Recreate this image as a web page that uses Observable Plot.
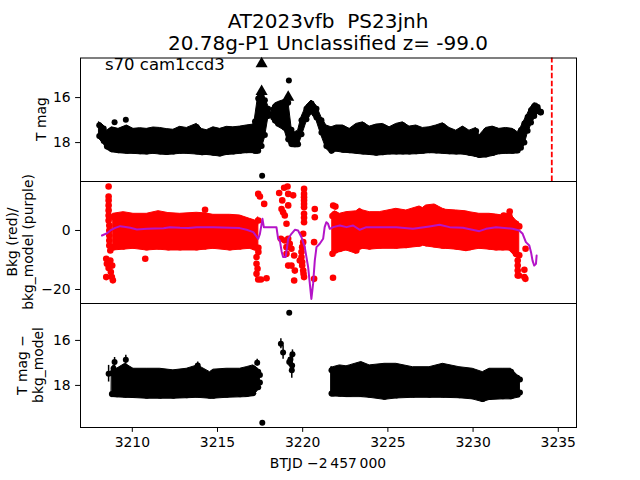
<!DOCTYPE html>
<html><head><meta charset="utf-8">
<script src="https://cdn.jsdelivr.net/npm/d3@7"></script>
<script src="https://cdn.jsdelivr.net/npm/@observablehq/plot@0.6"></script>
<style>
body{margin:0;background:#fff;}
#root{position:relative;width:640px;height:480px;overflow:hidden;font-family:"DejaVu Sans",sans-serif;}
#root svg{position:absolute;left:0;}
</style>
</head><body><div id="root"></div>
<script>
// ---------- text ----------
const titleLine1 = "AT2023vfb  PS23jnh";
const titleLine2 = "20.78g-P1 Unclassified z= -99.0";
const panelNote = "s70 cam1ccd3";
const yLabel1 = ["T mag"];
const yLabel2 = ["Bkg (red)/", "bkg_model (purple)"];
const yLabel3 = ["T mag \u2212", "bkg_model"];
const xLabel = "BTJD \u22122\u2009457\u2009000";
const xTicks = [3210, 3215, 3220, 3225, 3230, 3235];
const y1Ticks = [16, 18];
const y2Ticks = [0, -20];
const y3Ticks = [16, 18];
const xDomain = [3206.96, 3236.07];
const dashTime = [3234.62];

// ---------- panel 1: T mag (dense band envelope + single points) ----------
const p1T   = [3208.06,3208.32,3208.51,3208.80,3209.19,3209.68,3210.07,3210.46,3210.85,3211.24,3211.63,3212.02,3212.41,3212.80,3213.20,3213.78,3214.10,3214.37,3214.76,3215.15,3215.55,3215.93,3216.32,3216.71,3217.10,3217.20,3217.39,3217.59,3217.78,3217.97,3218.08,
               3218.27,3218.37,3218.56,3218.95,3219.15,3219.34,3219.54,3219.73,3219.93,3220.22,3220.52,3220.81,3221.10,3221.39,3221.69,3221.98,3222.37,3222.76,3223.15,3223.54,3223.93,3224.32,3224.71,3225.10,3225.49,3225.88,3226.27,3226.66,3227.05,3227.44,3227.84,3228.23,3228.62,3229.01,3229.40,3229.79,3230.18,3230.37,3230.76,3231.15,3231.54,3231.93,3232.32,3232.62,3232.81,3233.01,3233.20,3233.40,3233.59,3233.79,3233.98];
const p1Top = [17.10,17.24,17.47,17.32,17.39,17.24,17.39,17.36,17.39,17.33,17.35,17.40,17.43,17.30,17.35,17.17,17.40,17.45,17.32,17.39,17.30,17.32,17.29,17.24,17.20,16.93,15.91,15.80,15.99,16.36,16.60,
               16.40,16.27,16.20,16.10,16.10,17.30,17.54,17.47,16.87,16.36,16.13,16.36,16.87,17.24,17.32,17.24,17.24,17.39,17.17,17.10,17.29,17.20,17.17,17.32,17.17,17.10,17.29,17.24,17.35,17.32,17.24,17.14,17.35,17.47,17.29,17.47,17.35,17.69,17.35,17.29,17.39,17.35,17.39,17.54,17.32,17.02,16.73,16.43,16.25,16.28,16.50];
const p1Bot = [17.84,18.06,18.31,18.43,18.47,18.50,18.50,18.52,18.53,18.50,18.53,18.55,18.53,18.50,18.50,18.53,18.56,18.55,18.58,18.62,18.55,18.53,18.50,18.47,18.47,18.50,18.50,18.28,17.80,16.95,16.90,
               17.02,17.15,17.30,17.47,17.98,18.20,18.21,18.21,17.76,17.10,16.73,17.02,17.69,18.28,18.50,18.40,18.45,18.47,18.50,18.53,18.55,18.58,18.56,18.53,18.53,18.53,18.53,18.52,18.50,18.47,18.48,18.50,18.52,18.53,18.53,18.58,18.64,18.68,18.66,18.60,18.52,18.50,18.50,18.48,18.36,18.13,17.61,17.24,16.95,16.73,16.80];
const p1Seg = [0,0,0,0,0,0,0,0,0,0,0,0,0,0,0,0,0,0,0,0,0,0,0,0,0,0,0,0,0,0,0,
               1,1,1,1,1,1,1,1,1,1,1,1,1,1,1,1,1,1,1,1,1,1,1,1,1,1,1,1,1,1,1,1,1,1,1,1,1,1,1,1,1,1,1,1,1,1,1,1,1,1,1];
const p1DotT = [3208.96, 3209.62, 3219.19, 3217.62];
const p1DotM = [17.10, 16.98, 15.24, 19.47];
const p1TriT = [3217.59, 3217.59, 3219.15];
const p1TriM = [14.50, 15.73, 15.99];

// ---------- panel 2: background (red) and model (purple) ----------
const p2T   = [3208.88,3209.49,3210.07,3210.85,3211.54,3212.12,3212.80,3213.78,3214.27,3214.76,3215.73,3216.32,3216.90,3217.20,3217.40,
               3221.75,3221.90,3222.18,3222.57,3223.15,3223.35,3223.54,3223.93,3224.52,3225.49,3226.08,3226.86,3227.05,3227.25,3227.74,3228.23,3228.42,3229.01,3229.59,3229.79,3230.37,3230.96,3231.35,3231.74,3232.13,3232.52,3232.71];
const p2Top = [5.65,6.21,5.65,5.65,6.55,5.90,5.65,6.00,5.80,5.31,5.31,5.08,3.95,3.39,4.50,
               6.00,6.50,5.65,6.21,6.50,7.34,6.80,6.21,6.21,7.34,6.78,8.14,7.60,8.47,8.81,7.34,7.00,6.78,6.50,6.21,5.65,5.65,5.40,5.08,6.00,3.39,2.50];
const p2Bot = [-6.78,-6.50,-6.21,-6.78,-6.50,-6.78,-6.78,-6.78,-6.50,-6.21,-6.78,-6.50,-6.21,-6.78,-7.00,
               -9.00,-7.90,-7.34,-6.78,-7.91,-6.50,-6.21,-6.50,-6.21,-6.21,-6.00,-5.50,-5.08,-5.40,-5.80,-6.21,-6.21,-6.50,-7.00,-6.78,-6.21,-6.50,-6.78,-6.78,-6.78,-9.04,-9.50];
const p2Seg = [0,0,0,0,0,0,0,0,0,0,0,0,0,0,0,
               1,1,1,1,1,1,1,1,1,1,1,1,1,1,1,1,1,1,1,1,1,1,1,1,1,1,1];
const bkgDotT = [3208.61,3208.61,3208.61,3208.61,3208.61,3208.61,3208.61,3208.65,3208.65,3208.65,3208.65,3208.65,3208.71,3208.47,3208.51,3208.61,3208.47,3208.74,3208.80,3208.86,3208.71,3208.82,
                 3214.27,3210.76,3217.39,3217.49,3217.74,3217.39,3217.55,3217.88,3217.29,3217.29,3217.35,3217.29,3217.40,
                 3218.62,3218.91,3219.11,3219.15,3219.44,3218.80,3219.15,3218.76,3218.85,3218.95,3219.05,3218.72,3218.95,3219.15,3219.24,3219.05,3219.34,3219.05,3219.50,3219.15,3219.34,3219.54,3219.50,
                 3220.08,3220.08,3220.08,3220.08,3220.08,3220.08,3220.08,3220.08,3220.08,3220.03,3220.03,3219.97,3219.93,3219.93,3219.83,3219.97,3219.97,3220.03,3220.05,3220.08,
                 3220.71,3220.71,3220.67,3220.67,3221.78,3221.92,3221.79,
                 3232.62,3232.62,3232.62,3232.62,3233.01,3233.07,3233.01,3233.08,3232.69,3232.15,3231.80];
const bkgDotV = [14.9,11.5,10.2,8.5,6.8,5.1,3.4,1.7,0.0,-1.7,-3.4,-5.1,-6.8,-9.6,-11.3,-12.7,-15.8,-14.1,-15.8,-16.9,-10.2,-11.9,
                 7.0,-9.6,12.4,11.5,9.0,-16.6,-16.6,-16.2,-9.0,-11.3,-13.0,-14.7,-7.3,
                 12.7,14.5,14.9,12.4,11.9,10.2,8.5,7.3,6.2,5.1,2.3,-2.8,-3.4,-2.8,-4.5,-5.65,-6.2,-7.9,-8.5,-11.9,-11.9,-13.6,-16.95,
                 14.1,12.4,11.3,10.2,9.0,7.9,5.65,4.3,2.8,-1.1,-3.95,-5.65,-7.3,-9.0,-10.2,-10.7,-11.9,-13.6,-14.7,-15.8,
                 7.3,4.5,-3.95,-16.4,-16.0,8.1,8.47,
                 -10.2,-11.9,-13.6,-15.25,-13.3,-16.4,-15.8,-6.2,-15.25,6.4,5.1];
const modelT = [3208.22,3208.50,3208.71,3209.00,3209.29,3209.60,3209.88,3210.27,3210.85,3211.30,3211.83,3212.22,3212.80,3213.30,3213.78,3214.76,3215.73,3216.30,3216.71,3217.10,3217.39,3217.49,3217.64,3217.72,
                3218.27,3218.46,3218.56,3218.66,3218.76,3218.85,3219.00,3219.15,3219.34,3219.54,3219.73,3219.93,3220.12,3220.32,3220.51,3220.61,3220.71,3220.81,3221.00,3221.20,3221.29,3221.39,3221.49,3221.59,
                3221.79,3222.18,3222.57,3222.96,3223.35,3223.74,3224.52,3225.49,3226.47,3227.44,3228.03,3228.62,3229.40,3230.37,3230.76,3231.35,3232.32,3232.71,3232.91,3233.10,3233.30,3233.40,3233.49,3233.59,3233.69,3233.73];
const modelV = [-1.7,-1.0,0.0,0.9,1.47,1.2,0.9,0.34,0.56,0.7,0.79,1.13,0.90,0.8,1.13,1.13,0.90,0.8,0.23,-0.56,-2.82,-1.13,3.95,1.13,
                1.13,1.13,-2.82,-3.39,-7.0,-9.0,-9.0,-2.82,-1.13,0.23,0.0,-2.3,-5.65,-12.4,-23.2,-18.1,-10.2,-5.65,-4.5,-2.82,1.13,2.82,2.26,0.56,
                1.13,1.69,1.13,1.69,0.23,1.13,1.13,1.13,0.56,1.36,1.92,1.13,0.90,-0.23,0.56,1.13,0.56,0.0,-1.13,-3.95,-5.08,-7.34,-10.2,-11.9,-11.3,-8.47];

// ---------- panel 3: T mag - bkg_model ----------
const p3T   = [3208.80,3208.90,3209.10,3209.58,3210.07,3210.85,3211.63,3212.41,3213.20,3213.84,3214.56,3214.76,3215.54,3216.32,3216.71,3217.10,3217.39,3217.49,
               3221.69,3221.79,3222.18,3222.57,3222.76,3223.44,3223.93,3224.81,3225.49,3226.47,3227.44,3228.23,3229.20,3229.98,3230.57,3230.96,3231.74,3232.23,3232.62,3232.75];
const p3Top = [17.33,17.11,17.26,17.04,17.26,17.26,17.26,17.33,17.26,17.11,17.41,17.30,17.26,17.26,17.19,17.11,17.26,17.40,
               17.19,17.19,17.11,17.15,17.11,16.96,17.11,17.04,17.04,17.19,17.19,17.04,17.19,17.26,17.41,17.26,17.26,17.26,17.56,17.60];
const p3Bot = [18.52,18.52,18.53,18.55,18.56,18.59,18.59,18.59,18.57,18.55,18.59,18.59,18.55,18.53,18.52,18.48,18.22,18.00,
               18.49,18.49,18.50,18.52,18.52,18.52,18.55,18.64,18.58,18.55,18.55,18.55,18.57,18.62,18.74,18.65,18.62,18.62,18.55,18.45];
const p3Seg = [0,0,0,0,0,0,0,0,0,0,0,0,0,0,0,0,0,0,
               1,1,1,1,1,1,1,1,1,1,1,1,1,1,1,1,1,1,1,1];
const p3PtT = [3208.61,3208.96,3209.62,3213.84,3217.33,3217.63,3219.21,3218.72,3218.85,3219.28,3219.40,3219.38,3219.36,3219.21];
const p3PtM = [17.48,16.96,16.86,17.11,16.99,19.66,14.77,16.15,16.54,16.85,16.62,17.11,17.33,16.96];
const p3PtE = [0.37,0.20,0.20,0.15,0.15,0.0,0.0,0.22,0.30,0.20,0.20,0.20,0.35,0.20];

// ---------- build tables ----------
const band1 = p1T.map((t,i)=>({t, a:p1Top[i], b:p1Bot[i], s:p1Seg[i]}));
const dots1 = p1DotT.map((t,i)=>({t, m:p1DotM[i]}));
const tri1  = p1TriT.map((t,i)=>({t, m:p1TriM[i]}));
const band2 = p2T.map((t,i)=>({t, a:p2Top[i], b:p2Bot[i], s:p2Seg[i]}));
const dots2 = bkgDotT.map((t,i)=>({t, v:bkgDotV[i]}));
const model = modelT.map((t,i)=>({t, v:modelV[i]}));
const band3 = p3T.map((t,i)=>({t, a:p3Top[i], b:p3Bot[i], s:p3Seg[i]}));
const pts3  = p3PtT.map((t,i)=>({t, m:p3PtM[i], lo:p3PtM[i]-p3PtE[i], hi:p3PtM[i]+p3PtE[i]}));

const fmt = d => d < 0 ? "\u2212" + Math.abs(d) : String(d);
const baseStyle = {background:"transparent", fontFamily:"DejaVu Sans", fontSize:"13.9px", color:"black", overflow:"visible"};
const root = document.getElementById("root");
const TK = 4.9; // tick length / pad in px (3.5pt)

const P1_TOP = 57.5, P1_BOT = 181, P2_BOT = 303, P3_BOT = 427;

// band = filled envelope + scalloped marker edges (markers drawn at the envelope samples, inset by their radius)
function bandMarks(data, color, r, topDy, botDy){
  return [
    Plot.areaY(data, {x:"t", y1:"a", y2:"b", z:"s", fill:color, stroke:color, strokeWidth:1, curve:"linear", ...{dy:0}}),
    Plot.dot(data, {x:"t", y:"a", r, fill:color, dy:topDy}),
    Plot.dot(data, {x:"t", y:"b", r, fill:color, dy:botDy})
  ];
}

const plot1 = Plot.plot({
  width:640, height:P1_BOT, marginTop:P1_TOP, marginBottom:0, marginLeft:80, marginRight:64,
  style: baseStyle,
  x:{domain:xDomain, axis:null},
  y:{domain:[19.73,14.24], ticks:y1Ticks, tickSize:TK, tickPadding:TK, tickFormat:fmt, label:null},
  marks:[
    ...bandMarks(band1, "black", 3, 3, -3),
    Plot.dot(dots1, {x:"t", y:"m", r:3, fill:"black"}),
    Plot.dot(tri1, {x:"t", y:"m", r:4.5, symbol:"triangle", fill:"black"}),
    Plot.ruleX(dashTime, {x:d=>d, y1:19.73, y2:14.24, stroke:"red", strokeWidth:1.8, strokeDasharray:"5.5,2.4"}),
    Plot.frame({stroke:"black"})
  ]
});
plot1.style.top = "0px";
root.appendChild(plot1);

const plot2 = Plot.plot({
  width:640, height:P2_BOT-P1_BOT, marginTop:0, marginBottom:0, marginLeft:80, marginRight:64,
  style: baseStyle,
  x:{domain:xDomain, axis:null},
  y:{domain:[-24.75,16.6], ticks:y2Ticks, tickSize:TK, tickPadding:TK, tickFormat:fmt, label:null},
  marks:[
    ...bandMarks(band2, "red", 3.3, 3.3, -3.3),
    Plot.dot(dots2, {x:"t", y:"v", r:3.3, fill:"red"}),
    Plot.line(model, {x:"t", y:"v", stroke:"#b414c8", strokeWidth:2}),
    Plot.frame({stroke:"black"})
  ]
});
plot2.style.top = P1_BOT + "px";
root.appendChild(plot2);

const plot3 = Plot.plot({
  width:640, height:480-P2_BOT, marginTop:0, marginBottom:480-P3_BOT, marginLeft:80, marginRight:64,
  style: baseStyle,
  x:{domain:xDomain, ticks:xTicks, tickSize:TK, tickPadding:TK, tickFormat:fmt, label:null},
  y:{domain:[19.87,14.36], ticks:y3Ticks, tickSize:TK, tickPadding:TK, tickFormat:fmt, label:null},
  marks:[
    ...bandMarks(band3, "black", 3, 3, -3),
    Plot.ruleX(pts3, {x:"t", y1:"lo", y2:"hi", stroke:"black", strokeWidth:1.5}),
    Plot.dot(pts3, {x:"t", y:"m", r:3, fill:"black"}),
    Plot.frame({stroke:"black"})
  ]
});
plot3.style.top = P2_BOT + "px";
root.appendChild(plot3);

// ---------- overlay texts ----------
const ov = d3.select(root).append("svg").attr("width",640).attr("height",480)
  .style("top","0px").style("pointer-events","none")
  .attr("font-family","DejaVu Sans").attr("fill","black");
ov.append("text").attr("x",328).attr("y",28).attr("text-anchor","middle").attr("font-size",20).style("white-space","pre").text(titleLine1);
ov.append("text").attr("x",328).attr("y",50).attr("text-anchor","middle").attr("font-size",20).style("white-space","pre").text(titleLine2);
ov.append("text").attr("x",105).attr("y",70).attr("font-size",16.5).text(panelNote);
function ylab(lines, cy, xBase){
  lines.forEach((s,i)=>{
    ov.append("text").attr("transform",`translate(${xBase[i]},${cy}) rotate(-90)`)
      .attr("text-anchor","middle").attr("font-size",13.9).text(s);
  });
}
ylab(yLabel1, 119, [46]);
ylab(yLabel2, 242, [17, 33]);
ylab(yLabel3, 365, [27, 43]);
ov.append("text").attr("x",328).attr("y",468).attr("text-anchor","middle").attr("font-size",13.9).text(xLabel);
</script></body></html>
